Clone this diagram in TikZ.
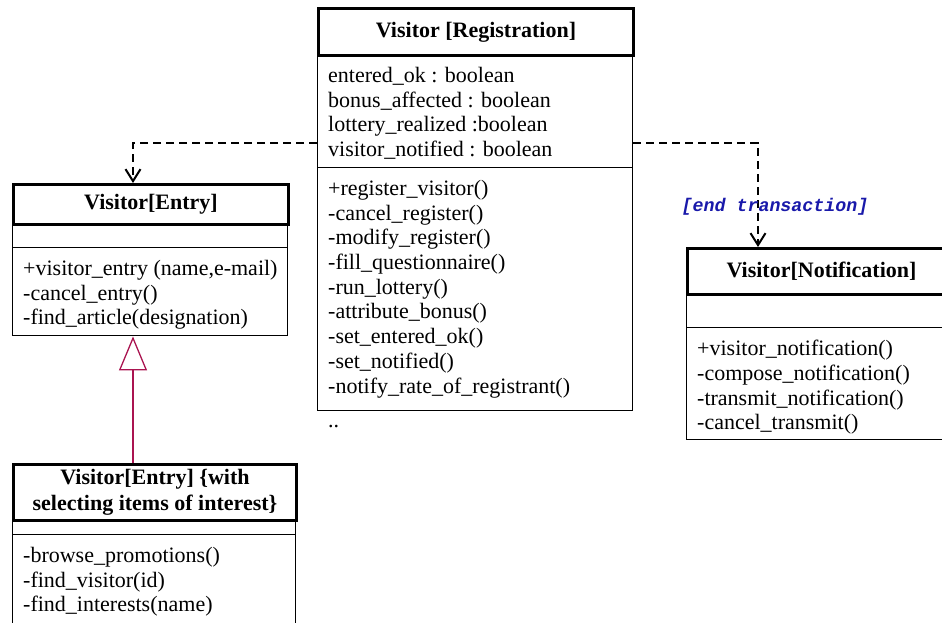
\documentclass[tikz,border=0pt]{standalone}
\usepackage{fontspec}
\setmainfont{Liberation Serif}
\newfontfamily\guardfont{Liberation Mono}
\usetikzlibrary{arrows.meta}
\definecolor{gencolor}{RGB}{170,20,80}
\definecolor{guardblue}{RGB}{25,25,170}
\begin{document}
\begin{tikzpicture}[x=1pt,y=-1pt,
  compbox/.style={draw, line width=1.4pt, anchor=north west, inner sep=0pt},
  titlebox/.style={draw, line width=3pt, anchor=north west, inner sep=0pt,
    align=center, font=\fontsize{22}{26}\selectfont\bfseries},
  members/.style={anchor=north west, inner sep=0pt, align=left,
    font=\fontsize{22}{24.7}\selectfont},
  dep/.style={line width=2.2pt, dash pattern=on 8pt off 5pt,
    -{Straight Barb[length=12pt,width=15pt,line width=2pt]}},
  gen/.style={draw=gencolor, line width=1.3pt,
    -{Triangle[open,length=34pt,width=28pt,line width=1.3pt]}},
  guard/.style={inner sep=0pt, text=guardblue,
    font=\guardfont\fontsize{18.3}{20}\selectfont\bfseries\itshape}
]
\useasboundingbox (0,0) rectangle (942,622);
\clip (0,0) rectangle (942,622);

% Visitor [Registration]
\node[compbox, minimum width=315pt, minimum height=113pt] (regattr) at (317,54) {};
\node[compbox, minimum width=315pt, minimum height=243pt] (regmeth) at (317,167) {};
\node[titlebox, minimum width=315pt, minimum height=47pt] (regtitle) at (317,7) {Visitor [Registration]};
\node[members] (regattrtext) at (328,67) {entered\_ok : boolean\\bonus\_affected : boolean\\lottery\_realized :boolean\\visitor\_notified : boolean};
\node[members] (regmethtext) at (328,180) {+register\_visitor()\\-cancel\_register()\\-modify\_register()\\-fill\_questionnaire()\\-run\_lottery()\\-attribute\_bonus()\\-set\_entered\_ok()\\-set\_notified()\\-notify\_rate\_of\_registrant()};
\node[anchor=base west, inner sep=0pt, font=\fontsize{22}{24.7}\selectfont] (regmore) at (328,427) {..};

% Visitor[Entry]
\node[compbox, minimum width=275pt, minimum height=24pt] (entryattr) at (12,223) {};
\node[compbox, minimum width=275pt, minimum height=88pt] (entrymeth) at (12,247) {};
\node[titlebox, minimum width=275pt, minimum height=40pt] (entrytitle) at (12,183) {Visitor[Entry]};
\node[members] (entrymethtext) at (23,260) {+visitor\_entry (name,e-mail)\\-cancel\_entry()\\-find\_article(designation)};

% Visitor[Notification]
\node[compbox, minimum width=268pt, minimum height=34pt] (notifattr) at (686,293) {};
\node[compbox, minimum width=268pt, minimum height=112pt] (notifmeth) at (686,327) {};
\node[titlebox, minimum width=268pt, minimum height=46pt] (notiftitle) at (686,247) {Visitor[Notification]};
\node[members] (notifmethtext) at (697,340) {+visitor\_notification()\\-compose\_notification()\\-transmit\_notification()\\-cancel\_transmit()};

% Visitor[Entry] with selecting items of interest
\node[compbox, minimum width=283pt, minimum height=15pt] (subattr) at (12,519) {};
\node[compbox, minimum width=283pt, minimum height=110pt] (submeth) at (12,534) {};
\node[titlebox, minimum width=283pt, minimum height=56pt] (subtitle) at (12,463) {Visitor[Entry] \{with\\selecting items of interest\}};
\node[members] (submethtext) at (23,547) {-browse\_promotions()\\-find\_visitor(id)\\-find\_interests(name)};

% dependencies from the registration class
\coordinate (depL) at (133,143);
\coordinate (depR) at (758,143);
\draw[dep] (depL -| regattr.west) -- (depL) -- (depL |- entrytitle.north);
\draw[dep] (depR -| regattr.east) -- (depR) -- (depR |- notiftitle.north);
\node[guard] (guard) at (775,207) {[end transaction]};

% generalization
\draw[gen] (subtitle.north -| depL) -- (entrymeth.south -| depL);
\end{tikzpicture}
\end{document}
